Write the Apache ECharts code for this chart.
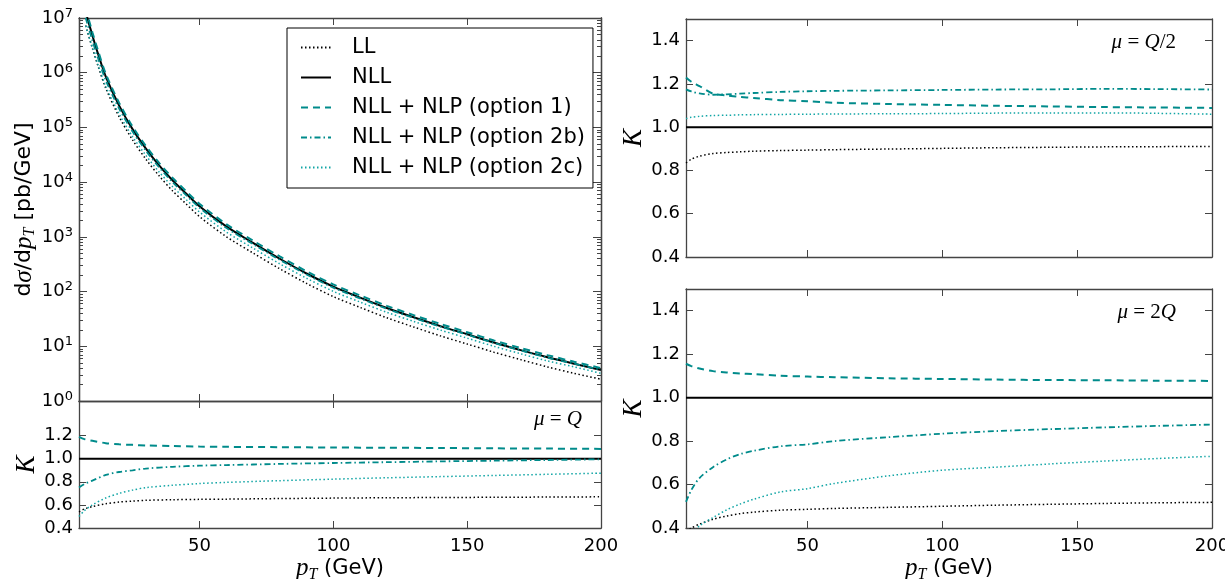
<!DOCTYPE html>
<html><head><meta charset="utf-8">
<script src="https://cdn.jsdelivr.net/npm/echarts@6/dist/echarts.min.js"></script>
<style>html,body{margin:0;padding:0;background:#fff}#c{width:1225px;height:579px}</style>
</head><body><div id="c"></div>
<script>
// ---------- data: main panel (dσ/dpT, pb/GeV) ----------
const mainPt   = [7.5, 8, 10, 12, 15, 20, 25, 30, 35, 40, 45, 50, 60, 70, 80, 90, 100, 110, 120, 130, 140, 150, 160, 170, 180, 190, 200];
const mainLL   = [7.3e6, 6.0e6, 2.8e6, 1.37e6, 5.2e5, 1.56e5, 5.9e4, 2.62e4, 1.29e4, 6900, 4010, 2350, 1010, 507, 261, 141, 81, 51.3, 33.2, 22.5, 15.5, 11.0, 7.8, 5.7, 4.2, 3.2, 2.5];
const mainNLL  = [1.3e7, 1.05e7, 4.8e6, 2.3e6, 8.5e5, 2.5e5, 9.3e4, 4.1e4, 2.0e4, 1.07e4, 6200, 3630, 1550, 776, 398, 214, 123, 77.6, 50.1, 33.9, 23.4, 16.6, 11.7, 8.5, 6.3, 4.8, 3.7];
const mainOpt1 = [1.52e7, 1.22e7, 5.5e6, 2.63e6, 9.6e5, 2.81e5, 1.04e5, 4.57e4, 2.22e4, 1.19e4, 6860, 4010, 1710, 854, 438, 235, 135, 85, 54.9, 37.1, 25.6, 18.1, 12.8, 9.3, 6.9, 5.2, 4.0];
const mainOpt2b= [1.01e7, 8.3e6, 3.9e6, 1.91e6, 7.3e5, 2.21e5, 8.4e4, 3.75e4, 1.85e4, 9950, 5800, 3410, 1460, 737, 380, 205, 118, 75, 48.6, 33.0, 22.9, 16.3, 11.5, 8.4, 6.2, 4.8, 3.7];
const mainOpt2c= [7.2e6, 5.9e6, 2.88e6, 1.44e6, 5.6e5, 1.75e5, 6.8e4, 3.08e4, 1.52e4, 8240, 4820, 2850, 1230, 623, 322, 175, 101, 64.3, 41.8, 28.5, 19.8, 14.1, 10.0, 7.3, 5.4, 4.2, 3.2];

// ---------- data: K ratio panels ----------
const kPt = [5, 7, 10, 15, 20, 25, 30, 40, 50, 60, 80, 100, 120, 140, 160, 180, 200];
const kNLL = [1, 1, 1, 1, 1, 1, 1, 1, 1, 1, 1, 1, 1, 1, 1, 1, 1];
// mu = Q
const kQ_LL   = [0.54, 0.565, 0.585, 0.61, 0.625, 0.633, 0.64, 0.645, 0.648, 0.65, 0.655, 0.659, 0.662, 0.664, 0.666, 0.668, 0.67];
const kQ_Opt1 = [1.19, 1.17, 1.155, 1.135, 1.125, 1.12, 1.115, 1.11, 1.105, 1.103, 1.10, 1.097, 1.095, 1.093, 1.09, 1.088, 1.085];
const kQ_Opt2b= [0.75, 0.78, 0.81, 0.86, 0.885, 0.90, 0.915, 0.93, 0.94, 0.945, 0.955, 0.963, 0.97, 0.977, 0.983, 0.989, 0.995];
const kQ_Opt2c= [0.50, 0.55, 0.60, 0.66, 0.70, 0.728, 0.75, 0.77, 0.785, 0.795, 0.81, 0.823, 0.835, 0.845, 0.855, 0.865, 0.875];
// mu = Q/2
const kH_LL   = [0.835, 0.852, 0.866, 0.878, 0.883, 0.886, 0.889, 0.892, 0.894, 0.896, 0.899, 0.902, 0.905, 0.907, 0.909, 0.910, 0.911];
const kH_Opt1 = [1.23, 1.21, 1.19, 1.155, 1.147, 1.14, 1.135, 1.125, 1.12, 1.113, 1.107, 1.103, 1.099, 1.096, 1.093, 1.091, 1.089];
const kH_Opt2b= [1.175, 1.165, 1.156, 1.15, 1.152, 1.155, 1.158, 1.163, 1.166, 1.168, 1.170, 1.172, 1.174, 1.175, 1.177, 1.176, 1.174];
const kH_Opt2c= [1.04, 1.046, 1.05, 1.054, 1.055, 1.057, 1.058, 1.059, 1.06, 1.061, 1.062, 1.063, 1.065, 1.066, 1.066, 1.064, 1.06];
// mu = 2Q
const kD_LL   = [0.385, 0.40, 0.418, 0.44, 0.455, 0.466, 0.473, 0.482, 0.486, 0.49, 0.495, 0.50, 0.505, 0.509, 0.513, 0.516, 0.518];
const kD_Opt1 = [1.156, 1.145, 1.134, 1.122, 1.116, 1.111, 1.108, 1.101, 1.097, 1.094, 1.089, 1.086, 1.083, 1.081, 1.08, 1.078, 1.077];
const kD_Opt2b= [0.52, 0.575, 0.63, 0.68, 0.715, 0.74, 0.755, 0.776, 0.785, 0.80, 0.818, 0.834, 0.846, 0.855, 0.863, 0.87, 0.876];
const kD_Opt2c= [0.33, 0.37, 0.41, 0.448, 0.483, 0.51, 0.532, 0.566, 0.581, 0.605, 0.64, 0.666, 0.68, 0.695, 0.708, 0.72, 0.73];

// ---------- labels / ticks ----------
const seriesNames = ['LL', 'NLL', 'NLL + NLP (option 1)', 'NLL + NLP (option 2b)', 'NLL + NLP (option 2c)'];
const xTickVals = [50, 100, 150, 200];
const logMajor = [1, 10, 100, 1e3, 1e4, 1e5, 1e6, 1e7];
const logMinor = [];
for (let e = 0; e < 7; e++) for (let m = 2; m <= 9; m++) logMinor.push(m * Math.pow(10, e));
const kTicksLeft = [0.4, 0.6, 0.8, 1.0, 1.2];
const kTicksRight = [0.4, 0.6, 0.8, 1.0, 1.2, 1.4];
const muLabels = ['Q', 'Q/2', '2Q'];

// ---------- styles ----------
const FRAME = '#444';
const TEAL = '#008b8b';
const TEAL2 = '#11a5a5';
const FONT = 'DejaVu Sans';
const SERIF = 'Liberation Serif';
const styles = [
  {color: '#000', width: 1.5, type: [1.5, 2.5]},
  {color: '#000', width: 2, type: 'solid'},
  {color: TEAL, width: 2, type: [7, 5]},
  {color: TEAL, width: 1.8, type: [6, 3, 1.5, 3]},
  {color: TEAL2, width: 1.5, type: [1.5, 2.5]}
];

function pairs(xs, ys) { return xs.map((x, i) => [x, ys[i]]); }

const grids = [
  {left: 79, top: 18, width: 522, height: 383, outerBoundsMode: 'none', containLabel: false},
  {left: 79, top: 401, width: 522, height: 127, outerBoundsMode: 'none', containLabel: false},
  {left: 686, top: 19, width: 526, height: 238, outerBoundsMode: 'none', containLabel: false},
  {left: 686, top: 289, width: 526, height: 239, outerBoundsMode: 'none', containLabel: false}
];

const pTName = '{i|p}{s|T}{n| (GeV)}';
const pTRich = {
  i: {fontFamily: SERIF, fontStyle: 'italic', fontSize: 25, color: '#000', lineHeight: 28},
  s: {fontFamily: SERIF, fontStyle: 'italic', fontSize: 16, color: '#000', lineHeight: 28, verticalAlign: 'bottom'},
  n: {fontFamily: FONT, fontSize: 21, color: '#000', lineHeight: 28}
};

function xAxis(grid, pos, showLabels, named) {
  return {
    type: 'value', gridIndex: grid, position: pos, min: 5, max: 200,
    axisLine: {show: true, onZero: false, lineStyle: {color: FRAME, width: 1.3}},
    axisTick: {show: true, inside: true, length: 7, customValues: [50, 100, 150], lineStyle: {color: FRAME, width: 1}},
    axisLabel: {show: showLabels, customValues: xTickVals, color: '#000', fontSize: 18, fontFamily: FONT, margin: 9},
    splitLine: {show: false},
    name: named ? pTName : '', nameLocation: 'middle', nameGap: 26,
    nameTextStyle: {rich: pTRich}
  };
}

function kAxis(grid, pos, ticks, labels, nameGap) {
  return {
    type: 'value', gridIndex: grid, position: pos, min: 0.4, max: 1.5,
    axisLine: {show: true, onZero: false, lineStyle: {color: FRAME, width: 1.3}},
    axisTick: {show: true, inside: true, length: 7, customValues: ticks, lineStyle: {color: FRAME, width: 1}},
    axisLabel: {show: labels, customValues: ticks, formatter: v => v.toFixed(1), color: '#000', fontSize: 18, fontFamily: FONT, margin: 6},
    splitLine: {show: false},
    name: labels ? 'K' : '', nameLocation: 'middle', nameGap: nameGap, nameRotate: 90,
    nameTextStyle: {fontFamily: SERIF, fontStyle: 'italic', fontSize: 27, color: '#000'}
  };
}

function logAxis(pos, ticks, len, labels) {
  return {
    type: 'log', logBase: 10, gridIndex: 0, position: pos, min: 1, max: 1e7,
    axisLine: {show: true, onZero: false, lineStyle: {color: FRAME, width: 1.3}},
    axisTick: {show: true, inside: true, length: len, customValues: ticks, lineStyle: {color: FRAME, width: 1}},
    axisLabel: {show: labels, customValues: ticks, margin: 6,
      formatter: v => '{a|10}{b|' + Math.round(Math.log10(v)) + '}',
      rich: {
        a: {fontFamily: FONT, fontSize: 18, color: '#000', lineHeight: 22},
        b: {fontFamily: FONT, fontSize: 13, color: '#000', lineHeight: 22, verticalAlign: 'top', padding: [0, 0, 8, 0]}
      }},
    splitLine: {show: false},
    name: labels ? 'd{g|σ}/d{i|p}{s|T} [pb/GeV]' : '', nameLocation: 'middle', nameGap: 40, nameRotate: 90,
    nameTextStyle: {rich: {
      g: {fontFamily: SERIF, fontStyle: 'italic', fontSize: 25, color: '#000', lineHeight: 28},
      i: {fontFamily: SERIF, fontStyle: 'italic', fontSize: 25, color: '#000', lineHeight: 28},
      s: {fontFamily: SERIF, fontStyle: 'italic', fontSize: 16, color: '#000', lineHeight: 28, verticalAlign: 'bottom'}
    }, fontFamily: FONT, fontSize: 22, color: '#000'}
  };
}

const xAxes = [
  xAxis(0, 'bottom', false, false), xAxis(0, 'top', false, false),
  xAxis(1, 'bottom', true, true), xAxis(1, 'top', false, false),
  xAxis(2, 'bottom', false, false), xAxis(2, 'top', false, false),
  xAxis(3, 'bottom', true, true), xAxis(3, 'top', false, false)
];
const yAxes = [
  logAxis('left', logMajor, 8, true), logAxis('left', logMinor, 4, false),
  logAxis('right', logMajor, 8, false), logAxis('right', logMinor, 4, false),
  kAxis(1, 'left', kTicksLeft, true, 38), kAxis(1, 'right', kTicksLeft, false, 0),
  kAxis(2, 'left', kTicksRight, true, 39), kAxis(2, 'right', kTicksRight, false, 0),
  kAxis(3, 'left', kTicksRight, true, 39), kAxis(3, 'right', kTicksRight, false, 0)
];

function mkSeries(name, idx, xAxisIndex, yAxisIndex, xs, ys) {
  return {
    type: 'line', name: name, xAxisIndex: xAxisIndex, yAxisIndex: yAxisIndex,
    data: pairs(xs, ys), showSymbol: false, symbol: 'none', smooth: 0.3, clip: true,
    lineStyle: Object.assign({}, styles[idx]), itemStyle: {color: styles[idx].color},
    animation: false, z: 2 + idx
  };
}

const series = [];
[mainLL, mainNLL, mainOpt1, mainOpt2b, mainOpt2c].forEach((d, i) => series.push(mkSeries(seriesNames[i], i, 0, 0, mainPt, d)));
[kQ_LL, kNLL, kQ_Opt1, kQ_Opt2b, kQ_Opt2c].forEach((d, i) => series.push(mkSeries(seriesNames[i], i, 2, 4, kPt, d)));
[kH_LL, kNLL, kH_Opt1, kH_Opt2b, kH_Opt2c].forEach((d, i) => series.push(mkSeries(seriesNames[i], i, 4, 6, kPt, d)));
[kD_LL, kNLL, kD_Opt1, kD_Opt2b, kD_Opt2c].forEach((d, i) => series.push(mkSeries(seriesNames[i], i, 6, 8, kPt, d)));

const muRich = {
  m: {fontFamily: SERIF, fontStyle: 'italic', fontSize: 21, fill: '#000'},
  e: {fontFamily: SERIF, fontSize: 21, fill: '#000'}
};
function muText(label, right, y) {
  const txt = label.replace(/([0-9]*)(Q)(\/)?([0-9]*)/, (m, a, q, sl, b) =>
    (a ? '{e|' + a + '}' : '') + '{m|' + q + '}' + (sl ? '{e|/}' : '') + (b ? '{e|' + b + '}' : ''));
  return {type: 'text', right: right, top: y, z: 100,
    style: {text: '{m|μ}{e| = }' + txt, rich: muRich, fill: '#000'}};
}

const chart = echarts.init(document.getElementById('c'), null, {renderer: 'canvas'});
chart.setOption({
  animation: false,
  backgroundColor: '#fff',
  textStyle: {fontFamily: FONT},
  grid: grids,
  xAxis: xAxes,
  yAxis: yAxes,
  legend: {
    data: seriesNames, orient: 'vertical', left: 287, top: 28,
    padding: [9, 8, 10, 13], itemGap: 9, itemWidth: 30, itemHeight: 14,
    borderColor: '#000', borderWidth: 1, borderRadius: 0, backgroundColor: '#fff',
    itemStyle: {opacity: 0, borderWidth: 0},
    textStyle: {fontFamily: FONT, fontSize: 21, color: '#000', padding: [0, 0, 0, 16]},
    selectedMode: false
  },
  graphic: [muText(muLabels[0], 1225 - 582, 409), muText(muLabels[1], 1225 - 1176, 32), muText(muLabels[2], 1225 - 1176, 302)],
  series: series
});
</script>
</body></html>
